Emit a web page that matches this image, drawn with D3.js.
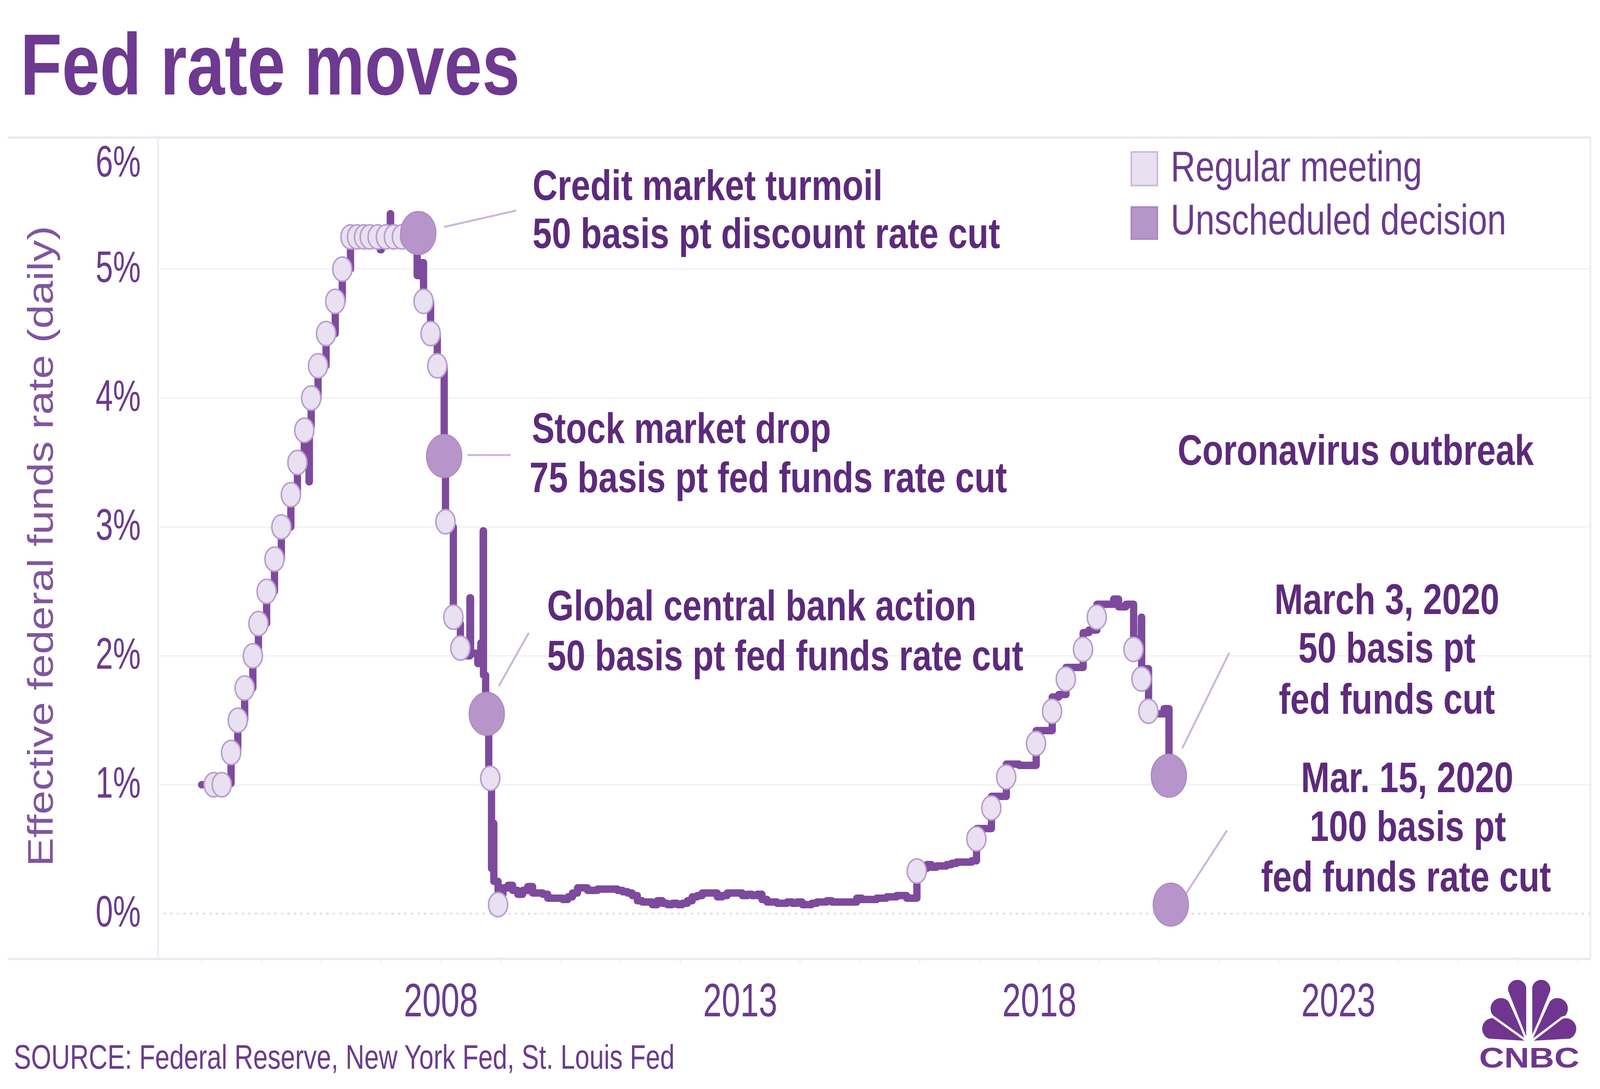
<!DOCTYPE html>
<html>
<head>
<meta charset="utf-8">
<script src="https://cdn.jsdelivr.net/npm/d3@7"></script>
<style>
  html, body { margin: 0; padding: 0; background: #fff; overflow: hidden; }
  svg { display: block; width: 100vw; height: 100vh; }
</style>
</head>
<body>
<svg id="chart" viewBox="0 0 4182 2788" preserveAspectRatio="none"></svg>
<script>
// effective fed funds rate (daily): [date, percent]
const dailyRate = [
  ["2004-01-02",1.00],["2004-02-17",1.02],["2004-04-12",0.96],["2004-05-24",1.01],
  ["2004-06-30",1.25],["2004-08-10",1.50],["2004-09-21",1.75],["2004-11-10",2.00],["2004-12-14",2.25],
  ["2005-02-02",2.50],["2005-03-22",2.75],["2005-05-03",3.00],["2005-06-30",3.25],["2005-08-09",3.50],
  ["2005-09-20",3.75],["2005-10-19",3.35],["2005-10-21",3.78],["2005-11-01",4.00],["2005-12-13",4.25],
  ["2006-01-31",4.50],["2006-03-28",4.75],["2006-05-10",5.00],["2006-06-29",5.25],["2006-10-02",5.27],
  ["2006-12-28",5.15],["2007-01-03",5.25],["2007-02-27",5.43],["2007-03-01",5.26],["2007-06-01",5.25],
  ["2007-08-08",5.41],["2007-08-10",4.95],["2007-08-29",5.05],["2007-09-18",4.75],["2007-10-31",4.50],
  ["2007-12-11",4.25],["2008-01-22",3.50],["2008-01-30",3.00],["2008-03-18",2.25],["2008-04-30",2.00],
  ["2008-06-27",2.45],["2008-07-01",2.02],["2008-08-14",1.94],["2008-09-02",2.10],["2008-09-16",2.97],
  ["2008-09-18",1.85],["2008-10-01",1.60],["2008-10-08",1.50],["2008-10-20",1.10],["2008-10-29",1.00],
  ["2008-11-06",0.35],["2008-11-14",0.70],["2008-11-20",0.25],["2008-12-16",0.15],
  ["2009-01-15",0.20],["2009-02-15",0.22],["2009-03-15",0.18],["2009-04-15",0.15],["2009-05-15",0.18],
  ["2009-06-15",0.21],["2009-07-15",0.16],["2009-08-15",0.16],["2009-09-15",0.15],["2009-10-15",0.12],
  ["2009-11-15",0.12],["2009-12-15",0.12],
  ["2010-01-15",0.11],["2010-02-15",0.13],["2010-03-15",0.16],["2010-04-15",0.20],["2010-05-15",0.20],
  ["2010-06-15",0.18],["2010-07-15",0.18],["2010-08-15",0.19],["2010-09-15",0.19],["2010-10-15",0.19],
  ["2010-11-15",0.19],["2010-12-15",0.18],
  ["2011-01-15",0.17],["2011-02-15",0.16],["2011-03-15",0.14],["2011-04-15",0.10],["2011-05-15",0.09],
  ["2011-06-15",0.09],["2011-07-15",0.07],["2011-08-15",0.10],["2011-09-15",0.08],["2011-10-15",0.07],
  ["2011-11-15",0.08],["2011-12-15",0.07],
  ["2012-01-15",0.08],["2012-02-15",0.10],["2012-03-15",0.13],["2012-04-15",0.14],["2012-05-15",0.16],
  ["2012-06-15",0.16],["2012-07-15",0.16],["2012-08-15",0.13],["2012-09-15",0.14],["2012-10-15",0.16],
  ["2012-11-15",0.16],["2012-12-15",0.16],
  ["2013-01-15",0.14],["2013-02-15",0.15],["2013-03-15",0.14],["2013-04-15",0.15],["2013-05-15",0.11],
  ["2013-06-15",0.09],["2013-07-15",0.09],["2013-08-15",0.08],["2013-09-15",0.08],["2013-10-15",0.09],
  ["2013-11-15",0.08],["2013-12-15",0.09],
  ["2014-01-15",0.07],["2014-02-15",0.07],["2014-03-15",0.08],["2014-04-15",0.09],["2014-05-15",0.09],
  ["2014-06-15",0.10],["2014-07-15",0.09],["2014-08-15",0.09],["2014-09-15",0.09],["2014-10-15",0.09],
  ["2014-11-15",0.09],["2014-12-15",0.12],
  ["2015-01-15",0.11],["2015-02-15",0.11],["2015-03-15",0.11],["2015-04-15",0.12],["2015-05-15",0.12],
  ["2015-06-15",0.13],["2015-07-15",0.13],["2015-08-15",0.14],["2015-09-15",0.14],["2015-10-15",0.12],
  ["2015-11-15",0.12],["2015-12-17",0.36],
  ["2016-01-15",0.35],["2016-02-15",0.38],["2016-03-15",0.36],["2016-04-15",0.37],["2016-05-15",0.37],
  ["2016-06-15",0.38],["2016-07-15",0.39],["2016-08-15",0.40],["2016-09-15",0.40],["2016-10-15",0.40],
  ["2016-11-15",0.41],["2016-12-15",0.66],
  ["2017-02-01",0.66],["2017-03-16",0.91],["2017-05-01",0.91],["2017-06-15",1.16],["2017-09-01",1.15],
  ["2017-12-14",1.42],["2018-02-01",1.42],["2018-03-22",1.68],["2018-05-01",1.70],["2018-06-14",1.91],
  ["2018-08-01",1.91],["2018-09-27",2.18],["2018-11-01",2.20],["2018-12-20",2.40],["2019-02-01",2.40],
  ["2019-04-01",2.44],["2019-05-01",2.38],["2019-06-15",2.40],["2019-08-01",2.13],["2019-09-17",2.30],
  ["2019-09-19",1.90],["2019-10-31",1.58],["2019-12-01",1.55],["2020-02-03",1.59],["2020-03-04",1.10],
  ["2020-03-06",1.10]
];

// scheduled FOMC meetings marked on the line: [date, percent]
const regularMeetings = [
  ["2004-03-16",1.00],["2004-05-04",1.00],["2004-06-30",1.25],["2004-08-10",1.50],["2004-09-21",1.75],
  ["2004-11-10",2.00],["2004-12-14",2.25],["2005-02-02",2.50],["2005-03-22",2.75],["2005-05-03",3.00],
  ["2005-06-30",3.25],["2005-08-09",3.50],["2005-09-20",3.75],["2005-11-01",4.00],["2005-12-13",4.25],
  ["2006-01-31",4.50],["2006-03-28",4.75],["2006-05-10",5.00],["2006-06-29",5.25],["2006-08-08",5.25],
  ["2006-09-20",5.25],["2006-10-25",5.25],["2006-12-12",5.25],["2007-01-31",5.25],["2007-03-21",5.25],
  ["2007-05-09",5.25],["2007-06-28",5.25],["2007-08-07",5.25],["2007-09-18",4.75],["2007-10-31",4.50],
  ["2007-12-11",4.25],["2008-01-30",3.04],["2008-03-18",2.30],["2008-04-30",2.06],["2008-10-29",1.05],
  ["2008-12-16",0.07],["2015-12-16",0.33],["2016-12-14",0.58],["2017-03-15",0.82],["2017-06-14",1.06],
  ["2017-12-13",1.32],["2018-03-21",1.57],["2018-06-13",1.82],["2018-09-26",2.05],["2018-12-19",2.30],
  ["2019-07-31",2.05],["2019-09-18",1.82],["2019-10-30",1.57]
];

// unscheduled decisions: [date, percent]
const unscheduledDecisions = [
  ["2007-08-17",5.28],["2008-01-22",3.55],["2008-10-08",1.55],["2020-03-03",1.07],["2020-03-15",0.07]
];

const yTicks = [0, 1, 2, 3, 4, 5, 6];
const xTickYears = [2008, 2013, 2018, 2023];
const legendLabels = ["Regular meeting", "Unscheduled decision"];
const noteCredit = ["Credit market turmoil", "50 basis pt discount rate cut"];
const noteStock = ["Stock market drop", "75 basis pt fed funds rate cut"];
const noteGlobal = ["Global central bank action", "50 basis pt fed funds rate cut"];
const noteCorona = ["Coronavirus outbreak"];
const noteMarch3 = ["March 3, 2020", "50 basis pt", "fed funds cut"];
const noteMarch15 = ["Mar. 15, 2020", "100 basis pt", "fed funds rate cut"];

const FONT = "'Liberation Sans', Arial, sans-serif";
const parse = d3.timeParse("%Y-%m-%d");
const svg = d3.select("#chart");

const frame = {left: 20, plotLeft: 413, right: 4157, top: 352, bottom: 2455};

// 2008 and 2018 label positions fix the time scale, then stretch it over the frame
const xBase = d3.scaleTime()
    .domain([new Date(2008, 0, 1), new Date(2018, 0, 1)])
    .range([1152, 2716]);
const x = d3.scaleTime()
    .domain([xBase.invert(frame.plotLeft), xBase.invert(frame.right)])
    .range([frame.plotLeft, frame.right]);
const y = d3.scaleLinear().domain([0, 6]).range([2339, 359]);

const rate = dailyRate.map(d => ({date: parse(d[0]), rate: d[1]}));
const regular = regularMeetings.map(d => ({date: parse(d[0]), rate: d[1]}));
const unscheduled = unscheduledDecisions.map(d => ({date: parse(d[0]), rate: d[1]}));

// the chart uses a condensed face: squeeze regular glyphs horizontally to the measured width
function squeeze(node, width) {
    const natural = node.getComputedTextLength();
    return natural > 0 ? width / natural : 1;
}

function addText(g, str, px, py, size, width, opts) {
    opts = opts || {};
    const holder = g.append("g");
    const t = holder.append("text")
        .text(str)
        .attr("font-family", FONT)
        .attr("font-size", size)
        .attr("font-weight", opts.weight || "normal")
        .attr("text-anchor", opts.anchor || "start")
        .attr("fill", opts.fill || "#6b3b8d");
    const sx = squeeze(t.node(), width);
    holder.attr("transform", `translate(${px},${py}) ${opts.rotate ? "rotate(" + opts.rotate + ")" : ""} scale(${sx},1)`);
    return holder;
}

// title
addText(svg, "Fed rate moves", 53, 242, 223, 1306, {weight: "bold", fill: "#6e3990"});

// gridlines
svg.append("g")
    .selectAll("line")
    .data(yTicks.filter(d => d > 0 && d < 6))
    .join("line")
    .attr("x1", frame.plotLeft)
    .attr("x2", frame.right)
    .attr("y1", d => y(d))
    .attr("y2", d => y(d))
    .attr("stroke", "#f5f1f8")
    .attr("stroke-width", 4);

svg.append("line")
    .attr("x1", frame.plotLeft + 15)
    .attr("x2", frame.right)
    .attr("y1", y(0))
    .attr("y2", y(0))
    .attr("stroke", "#e3dbeb")
    .attr("stroke-width", 5)
    .attr("stroke-dasharray", "6 11");

// frame
const frameG = svg.append("g").attr("stroke", "#eee8f3");
frameG.append("line").attr("x1", frame.left).attr("x2", frame.right)
    .attr("y1", frame.top).attr("y2", frame.top).attr("stroke-width", 6);
frameG.append("line").attr("x1", frame.left).attr("x2", frame.right)
    .attr("y1", frame.bottom).attr("y2", frame.bottom).attr("stroke-width", 6);
frameG.append("line").attr("x1", frame.plotLeft).attr("x2", frame.plotLeft)
    .attr("y1", frame.top).attr("y2", frame.bottom).attr("stroke-width", 4);
frameG.append("line").attr("x1", frame.right).attr("x2", frame.right)
    .attr("y1", frame.top).attr("y2", frame.bottom).attr("stroke-width", 4);

// faint yearly ticks under the frame
svg.append("g")
    .attr("transform", `translate(0,${frame.bottom})`)
    .call(d3.axisBottom(x).ticks(d3.timeYear.every(1)).tickSize(12).tickFormat(""))
    .call(g => g.select(".domain").remove())
    .call(g => g.selectAll(".tick line").attr("stroke", "#f3eff7").attr("stroke-width", 3));

// x axis labels
svg.append("g")
    .attr("transform", `translate(0,${frame.bottom})`)
    .call(d3.axisBottom(x)
        .tickValues(xTickYears.map(yr => new Date(yr, 0, 1)))
        .tickFormat(d3.timeFormat("%Y"))
        .tickSize(0))
    .call(g => g.select(".domain").remove())
    .call(g => g.selectAll(".tick text")
        .attr("y", 147)
        .attr("dy", null)
        .attr("font-family", FONT)
        .attr("font-size", 120)
        .attr("fill", "#6b3b8d")
        .attr("transform", function() { return `scale(${squeeze(this, 194)},1)`; }));

// y axis labels (the top one is kept inside the frame)
svg.append("g")
    .attr("transform", "translate(368,0)")
    .call(d3.axisLeft(y).tickValues(yTicks).tickFormat(d => d + "%").tickSize(0).tickPadding(0))
    .call(g => g.select(".domain").remove())
    .call(g => g.selectAll(".tick text")
        .attr("x", 0)
        .attr("dy", null)
        .attr("y", d => Math.max(32, 451 - y(d)))
        .attr("font-family", FONT)
        .attr("font-size", 113)
        .attr("fill", "#6b3b8d")
        .attr("transform", function() { return `scale(${squeeze(this, 118)},1)`; }));

// y axis title
addText(svg, "Effective federal funds rate (daily)", 138, 1398, 93, 1640,
    {anchor: "middle", fill: "#80559f", rotate: -90});

// rate line
const line = d3.line()
    .x(d => x(d.date))
    .y(d => y(d.rate))
    .curve(d3.curveStepAfter);

svg.append("path")
    .datum(rate)
    .attr("d", line)
    .attr("fill", "none")
    .attr("stroke", "#7d4a9d")
    .attr("stroke-width", 19)
    .attr("stroke-linejoin", "round")
    .attr("stroke-linecap", "round");

// leader lines
const leaders = [
    [1161, 581, 1349, 539],
    [1222, 1165, 1335, 1165],
    [1304, 1756, 1382, 1620],
    [3090, 1916, 3213, 1671],
    [3092, 2300, 3207, 2126]
];
svg.append("g")
    .selectAll("line")
    .data(leaders)
    .join("line")
    .attr("x1", d => d[0]).attr("y1", d => d[1])
    .attr("x2", d => d[2]).attr("y2", d => d[3])
    .attr("stroke", "#cbb5da")
    .attr("stroke-width", 5);

// meeting markers
svg.append("g")
    .selectAll("ellipse")
    .data(regular)
    .join("ellipse")
    .attr("cx", d => x(d.date))
    .attr("cy", d => y(d.rate))
    .attr("rx", 25)
    .attr("ry", 31)
    .attr("fill", "#e9e0f1")
    .attr("stroke", "#b99ecd")
    .attr("stroke-width", 4);

svg.append("g")
    .selectAll("ellipse")
    .data(unscheduled)
    .join("ellipse")
    .attr("cx", d => x(d.date))
    .attr("cy", d => y(d.rate))
    .attr("rx", 46)
    .attr("ry", 55)
    .attr("fill", "#b795ca")
    .attr("stroke", "#ad8bc3")
    .attr("stroke-width", 3);

// annotations
const NOTE = "#5d2a7c";
const notes = [
    {lines: noteCredit, x: [1392, 1392], y: [512, 635], w: [915, 1222], anchor: "start"},
    {lines: noteStock, x: [1390, 1384], y: [1134, 1260], w: [782, 1248], anchor: "start"},
    {lines: noteGlobal, x: [1430, 1430], y: [1588, 1716], w: [1122, 1245], anchor: "start"},
    {lines: noteCorona, x: [3078], y: [1190], w: [931], anchor: "start"},
    {lines: noteMarch3, x: [3625, 3625, 3625], y: [1572, 1696, 1827], w: [588, 463, 565], anchor: "middle"},
    {lines: noteMarch15, x: [3678, 3680, 3675], y: [2028, 2153, 2282], w: [555, 513, 758], anchor: "middle"}
];
const noteG = svg.append("g");
notes.forEach(n => {
    n.lines.forEach((str, i) => {
        addText(noteG, str, n.x[i], n.y[i], 110, n.w[i], {weight: "bold", anchor: n.anchor, fill: NOTE});
    });
});

// legend
const legend = svg.append("g");
const legendStyle = [
    {fill: "#e9e0f1", stroke: "#cbb7da", y: 389, h: 86, ty: 464, w: 657},
    {fill: "#b695c9", stroke: "#a887be", y: 530, h: 82, ty: 600, w: 877}
];
legendLabels.forEach((lab, i) => {
    const s = legendStyle[i];
    legend.append("rect")
        .attr("x", 2957).attr("y", s.y)
        .attr("width", 68).attr("height", s.h)
        .attr("fill", s.fill).attr("stroke", s.stroke).attr("stroke-width", 4);
    addText(legend, lab, 3060, s.ty, 110, s.w);
});

// source
addText(svg, "SOURCE: Federal Reserve, New York Fed, St. Louis Fed", 36, 2736, 88, 1727);

// CNBC peacock
const logo = svg.append("g").attr("transform", "translate(3997,2668)");
const feathers = [
    {a: -70, d: 100, r: 30, dx: -2},
    {a: -40, d: 112, r: 30, dx: -2},
    {a: -11, d: 138, r: 27, dx: -5},
    {a: 11, d: 138, r: 27, dx: 5},
    {a: 40, d: 112, r: 30, dx: 2},
    {a: 70, d: 100, r: 30, dx: 2}
];
logo.selectAll("path")
    .data(feathers)
    .join("path")
    .attr("transform", f => `translate(${f.dx},0) rotate(${f.a})`)
    .attr("d", f => `M0,0 L${-f.r},${-f.d} A${f.r},${f.r} 0 0 1 ${f.r},${-f.d} Z`)
    .attr("fill", "#70368f")
    .attr("stroke", "#ffffff")
    .attr("stroke-width", 6)
    .attr("stroke-linejoin", "round");
addText(svg, "CNBC", 3866, 2733, 72, 262, {weight: "900", fill: "#70368f"});
</script>
</body>
</html>
